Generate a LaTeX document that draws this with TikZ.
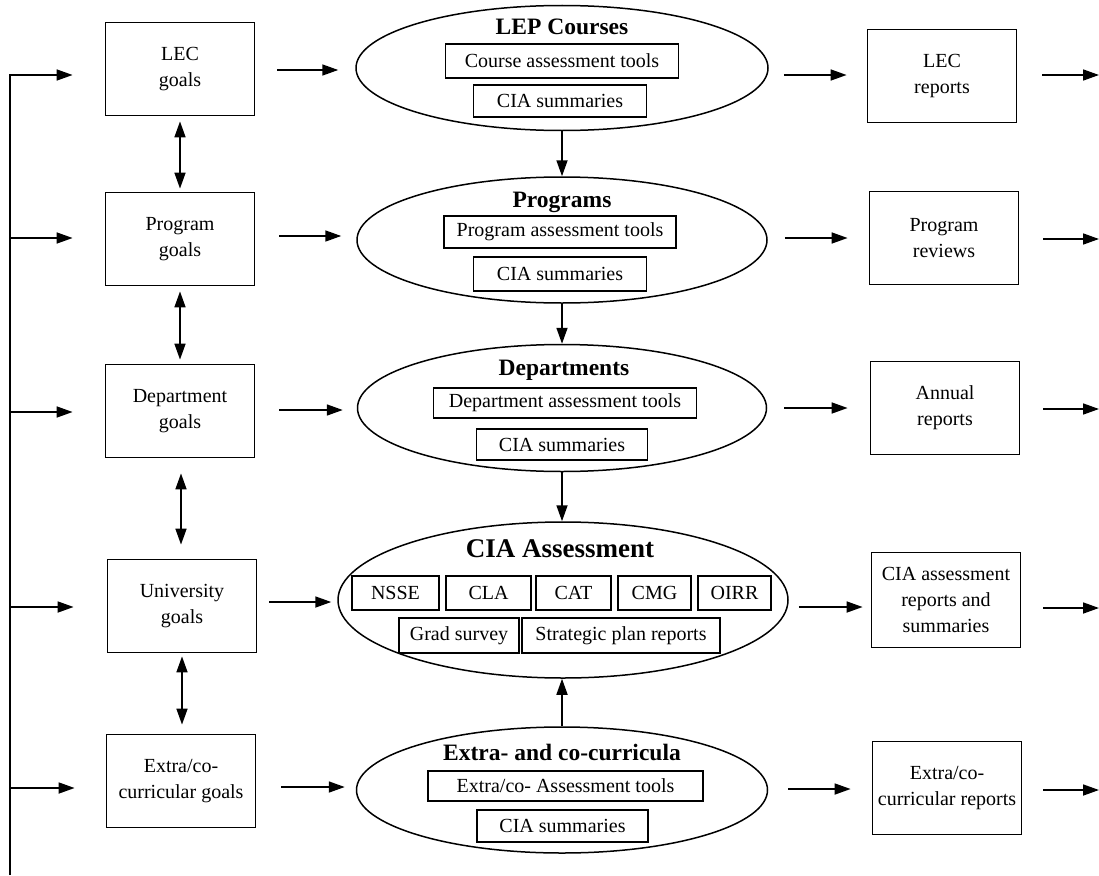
\documentclass[tikz,border=0pt]{standalone}
\usepackage{fontspec}
\setmainfont{Liberation Serif}
\usetikzlibrary{shapes.geometric,arrows.meta}
\begin{document}
\begin{tikzpicture}[x=1pt,y=-1pt,
  gbox/.style={draw, line width=1.8pt, minimum width=149pt, minimum height=93pt, align=center, inner sep=0pt, font=\fontsize{20}{26}\selectfont},
  ibox/.style={draw, line width=1.7pt, inner sep=0pt, font=\fontsize{20}{24}\selectfont},
  ell/.style={draw, ellipse, line width=1.5pt, inner sep=0pt},
  ttl/.style={font=\fontsize{23.5}{28}\selectfont\bfseries, anchor=base, inner sep=0pt},
  arr/.style={line width=1.7pt, -{Triangle[length=16pt,width=11pt]}},
  darr/.style={line width=1.7pt, {Triangle[length=16pt,width=11pt]}-{Triangle[length=16pt,width=11pt]}},
  bus/.style={line width=1.7pt}
]
\useasboundingbox (0,0) rectangle (1099,875);

% left goal boxes
\node[gbox] (g1) at (180,69) {LEC\\goals};
\node[gbox] (g2) at (180,239) {Program\\goals};
\node[gbox] (g3) at (180,411) {Department\\goals};
\node[gbox] (g4) at (182,606) {University\\goals};
\node[gbox] (g5) at (181,781) {Extra/co-\\curricular goals};

% ellipses
\node[ell, minimum width=412pt, minimum height=125pt] (e1) at (562,68) {};
\node[ell, minimum width=410pt, minimum height=126pt] (e2) at (562,240) {};
\node[ell, minimum width=409pt, minimum height=127pt] (e3) at (562,408) {};
\node[ell, minimum width=450pt, minimum height=156pt] (e4) at (563,600) {};
\node[ell, minimum width=411pt, minimum height=126pt] (e5) at (562,790) {};

% right report boxes
\node[gbox] (r1) at (942,76) {LEC\\reports};
\node[gbox] (r2) at (944,238) {Program\\reviews};
\node[gbox] (r3) at (945,408) {Annual\\reports};
\node[gbox, minimum height=95pt] (r4) at (946,600) {CIA assessment\\reports and\\summaries};
\node[gbox] (r5) at (947,788) {Extra/co-\\curricular reports};

% ellipse contents
\node[ttl] (t1) at (562,35) {LEP Courses};
\node[ibox, minimum width=233pt, minimum height=34pt] (b1a) at (562,61) {Course assessment tools};
\node[ibox, minimum width=173pt, minimum height=32pt] (b1b) at (560,101) {CIA summaries};

\node[ttl] (t2) at (562,207) {Programs};
\node[ibox, minimum width=232pt, minimum height=32pt] (b2a) at (560,232) {Program assessment tools};
\node[ibox, minimum width=173pt, minimum height=34pt] (b2b) at (560,274) {CIA summaries};

\node[ttl] (t3) at (564,375) {Departments};
\node[ibox, minimum width=263pt, minimum height=30pt] (b3a) at (565,403) {Department assessment tools};
\node[ibox, minimum width=171pt, minimum height=31pt] (b3b) at (562,444.5) {CIA summaries};

\node[ttl, font=\fontsize{27}{32}\selectfont\bfseries] (t4) at (560,557) {CIA Assessment};
\node[ibox, minimum width=87pt, minimum height=34pt] (c1) at (395.5,593) {NSSE};
\node[ibox, minimum width=85pt, minimum height=34pt] (c2) at (488.5,593) {CLA};
\node[ibox, minimum width=75pt, minimum height=34pt] (c3) at (573.5,593) {CAT};
\node[ibox, minimum width=73pt, minimum height=34pt] (c4) at (654.5,593) {CMG};
\node[ibox, minimum width=73pt, minimum height=34pt] (c5) at (734.5,593) {OIRR};
\node[ibox, minimum width=120pt, minimum height=35pt] (c6) at (459,635.5) {Grad survey};
\node[ibox, minimum width=198pt, minimum height=35pt] (c7) at (621,635.5) {Strategic plan reports};

\node[ttl] (t5) at (562,760) {Extra- and co-curricula};
\node[ibox, minimum width=275pt, minimum height=30pt] (b5a) at (565.5,786) {Extra/co- Assessment tools};
\node[ibox, minimum width=171pt, minimum height=32pt] (b5b) at (562.5,826) {CIA summaries};

% row coordinates
\coordinate (bt) at (10,75);
\coordinate (bb) at (10,875);
\coordinate (d2) at (0,238);
\coordinate (d3) at (0,412);
\coordinate (d4) at (0,607);
\coordinate (d5) at (0,788);
\coordinate (a1) at (0,70);
\coordinate (a2) at (0,236);
\coordinate (a3) at (0,410);
\coordinate (a4) at (0,602);
\coordinate (a5) at (0,787);
\coordinate (p1) at (0,75);
\coordinate (p2) at (0,238);
\coordinate (p3) at (0,408);
\coordinate (p4) at (0,607);
\coordinate (p5) at (0,789);
\coordinate (o1) at (1099,75);
\coordinate (o2) at (1099,239);
\coordinate (o3) at (1099,409);
\coordinate (o4) at (1099,608);
\coordinate (o5) at (1099,790);

% bus and feedback arrows
\draw[arr, shorten >=32pt] (bb) -- (bt) -- (g1.west |- bt);
\draw[arr, shorten >=32pt] (bt |- d2) -- (g2.west |- d2);
\draw[arr, shorten >=32pt] (bt |- d3) -- (g3.west |- d3);
\draw[arr, shorten >=33pt] (bt |- d4) -- (g4.west |- d4);
\draw[arr, shorten >=31pt] (bt |- d5) -- (g5.west |- d5);

% goal -> ellipse
\draw[arr, shorten <=22pt, shorten >=17pt] (g1.east |- a1) -- (e1.west |- a1);
\draw[arr, shorten <=24pt, shorten >=15pt] (g2.east |- a2) -- (e2.west |- a2);
\draw[arr, shorten <=24pt, shorten >=14pt] (g3.east |- a3) -- (e3.west |- a3);
\draw[arr, shorten <=12pt, shorten >=6pt] (g4.east |- a4) -- (e4.west |- a4);
\draw[arr, shorten <=25pt, shorten >=11pt] (g5.east |- a5) -- (e5.west |- a5);

% ellipse -> report
\draw[arr, shorten <=15pt, shorten >=20pt] (e1.east |- p1) -- (r1.west |- p1);
\draw[arr, shorten <=17pt, shorten >=21pt] (e2.east |- p2) -- (r2.west |- p2);
\draw[arr, shorten <=17pt, shorten >=22pt] (e3.east |- p3) -- (r3.west |- p3);
\draw[arr, shorten <=10pt, shorten >=8pt] (e4.east |- p4) -- (r4.west |- p4);
\draw[arr, shorten <=20pt, shorten >=21pt] (e5.east |- p5) -- (r5.west |- p5);

% report -> out
\draw[arr, shorten <=25pt] (r1.east |- o1) -- (o1);
\draw[arr, shorten <=24pt] (r2.east |- o2) -- (o2);
\draw[arr, shorten <=23pt] (r3.east |- o3) -- (o3);
\draw[arr, shorten <=22pt] (r4.east |- o4) -- (o4);
\draw[arr, shorten <=21pt] (r5.east |- o5) -- (o5);

% double arrows between goals
\draw[darr, shorten <=5pt, shorten >=3pt] (g1.south) -- (g2.north);
\draw[darr, shorten <=5pt, shorten >=4pt] (g2.south) -- (g3.north);
\draw[darr, shorten <=15pt, shorten >=14pt] (g3.south) ++(1,0) coordinate (g3s) -- (g3s |- g4.north);
\draw[darr, shorten <=3pt, shorten >=9pt] (g4.south) -- (g4.south |- g5.north);

% vertical flow between ellipses
\draw[arr] (e1.south) -- (e2.north);
\draw[arr] (e2.south) -- (e3.north);
\draw[arr] (e3.south) -- (e3.south |- e4.north);
\draw[arr] (e5.north) -- (e5.north |- e4.south);
\end{tikzpicture}
\end{document}
